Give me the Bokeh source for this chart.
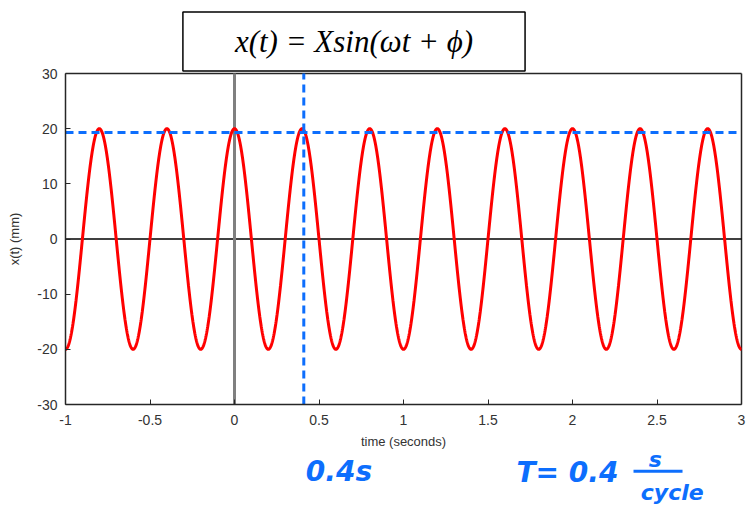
import numpy as np
from bokeh.plotting import figure
from bokeh.models import Label, FixedTicker, Range1d
from bokeh.embed import file_html
from bokeh.resources import INLINE

# values
amplitude_mm = 20.0        # X
period_s = 0.4             # T
phase_rad = np.pi / 2      # phi (peak at t = 0)
t_start, t_end = -1.0, 3.0
y_min, y_max = -30.0, 30.0
marker_level_mm = 19.3     # dashed horizontal marker
marker_time_s = 0.41       # dashed vertical marker
x_ticks = [-1, -0.5, 0, 0.5, 1, 1.5, 2, 2.5, 3]
x_tick_labels = ["-1", "-0.5", "0", "0.5", "1", "1.5", "2", "2.5", "3"]
y_ticks = [-30, -20, -10, 0, 10, 20, 30]
y_tick_labels = ["-30", "-20", "-10", "0", "10", "20", "30"]

t = np.linspace(t_start, t_end, 2001)
omega = 2 * np.pi / period_s
x = amplitude_mm * np.sin(omega * t + phase_rad)

# canvas geometry (pixels) -> the frame covers the whole canvas, the axes box sits inside
W, H = 746, 506
left_px, right_px, top_px, bottom_px = 65, 741, 73, 404
sx = (right_px - left_px) / (t_end - t_start)
sy = (bottom_px - top_px) / (y_max - y_min)
xr = Range1d(t_start - left_px / sx, t_end + (W - right_px) / sx)
yr = Range1d(y_min - (H - bottom_px) / sy, y_max + top_px / sy)

p = figure(width=W, height=H, output_backend="svg", toolbar_location=None,
           x_range=xr, y_range=yr, min_border=0)
p.xgrid.visible = False
p.ygrid.visible = False
p.outline_line_color = None
p.background_fill_color = "white"
p.border_fill_color = "white"

for ax in (p.xaxis[0], p.yaxis[0]):
    ax.major_tick_in = 5
    ax.major_tick_out = 0
    ax.minor_tick_line_color = None
    ax.axis_line_color = "#262626"
    ax.axis_line_width = 1.5
    ax.major_tick_line_color = "#262626"
    ax.major_label_text_font = "Liberation Sans"
    ax.major_label_text_font_size = "14px"
    ax.major_label_text_color = "#333333"
    ax.axis_label_text_font = "Liberation Sans"
    ax.axis_label_text_font_size = "13px"
    ax.axis_label_text_font_style = "normal"
    ax.axis_label_text_color = "#333333"

p.xaxis.fixed_location = y_min
p.yaxis.fixed_location = t_start
p.xaxis.bounds = (t_start, t_end)
p.yaxis.bounds = (y_min, y_max)
p.xaxis.ticker = FixedTicker(ticks=x_ticks)
p.xaxis.major_label_overrides = {k: v for k, v in zip(x_ticks, x_tick_labels)}
p.yaxis.ticker = FixedTicker(ticks=y_ticks)
p.yaxis.major_label_overrides = {k: v for k, v in zip(y_ticks, y_tick_labels)}
p.xaxis.axis_label = "time (seconds)"
p.yaxis.axis_label = "x(t) (mm)"
p.xaxis.major_label_standoff = 10
p.xaxis.axis_label_standoff = 6
p.yaxis.major_label_standoff = 8
p.yaxis.axis_label_standoff = 12

# box top and right edges
p.segment(x0=[t_start, t_end], y0=[y_max, y_min], x1=[t_end, t_end], y1=[y_max, y_max],
          line_color="#262626", line_width=1.5)
# zero lines
p.segment(x0=[t_start], y0=[0], x1=[t_end], y1=[0], line_color="black", line_width=1.5)
p.segment(x0=[0], y0=[y_min], x1=[0], y1=[y_max], line_color="#808080", line_width=3)

p.line(t, x, line_color="#ff0000", line_width=3)

# dashed markers
blue = "#0d6efd"
p.segment(x0=[t_start], y0=[marker_level_mm], x1=[t_end], y1=[marker_level_mm],
          line_color=blue, line_width=3, line_dash="8 5")
p.segment(x0=[marker_time_s], y0=[y_min], x1=[marker_time_s], y1=[y_max],
          line_color=blue, line_width=3, line_dash="8 5")

# title box with formula
p.add_layout(Label(x=0.707, y=35.8, text="x(t) = Xsin(ωt + ϕ)", text_align="center",
                   text_baseline="middle", text_font="Liberation Serif",
                   text_font_style="italic", text_font_size="31px", text_color="black",
                   background_fill_color="white", border_line_color="black",
                   border_line_width=1.5,
                   padding=dict(left=52, right=52, top=12, bottom=12)))

# handwritten annotations
p.add_layout(Label(x=0.618, y=-42.2, text="0.4s", text_align="center", text_baseline="middle",
                   text_font="DejaVu Sans", text_font_style="bold italic",
                   text_font_size="28px", text_color=blue))
p.add_layout(Label(x=1.97, y=-42.3, text="T= 0.4", text_align="center", text_baseline="middle",
                   text_font="DejaVu Sans", text_font_style="bold italic",
                   text_font_size="28px", text_color=blue))
p.add_layout(Label(x=2.49, y=-39.9, text="s", text_align="center", text_baseline="middle",
                   text_font="DejaVu Sans", text_font_style="bold italic",
                   text_font_size="22px", text_color=blue))
p.add_layout(Label(x=2.59, y=-46.0, text="cycle", text_align="center", text_baseline="middle",
                   text_font="DejaVu Sans", text_font_style="bold italic",
                   text_font_size="22px", text_color=blue))
p.segment(x0=[2.361], y0=[-42.1], x1=[2.651], y1=[-42.1], line_color=blue, line_width=3)

open("out.html", "w").write(file_html(p, INLINE))
